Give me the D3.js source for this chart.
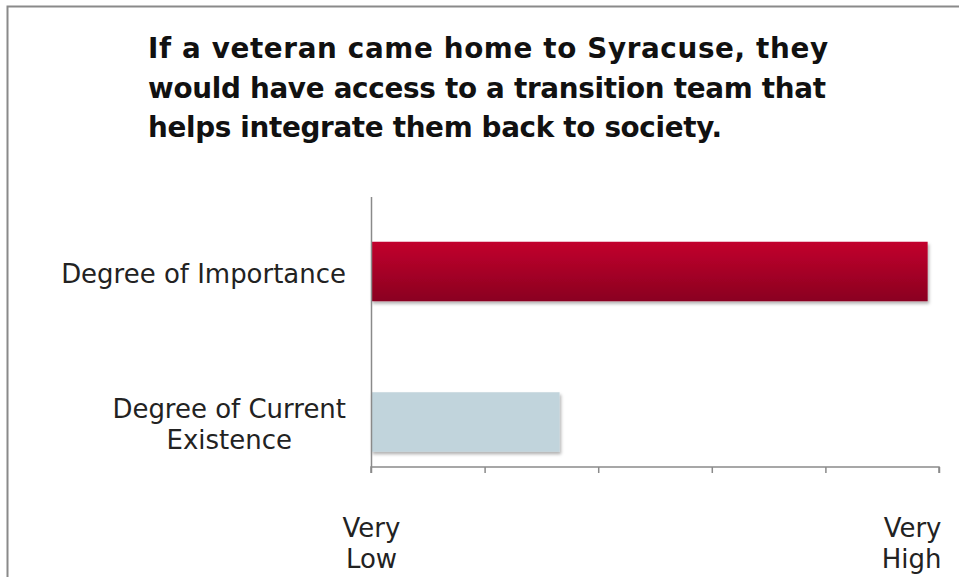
<!DOCTYPE html>
<html>
<head>
<meta charset="utf-8">
<script src="https://cdn.jsdelivr.net/npm/d3@7"></script>
<style>
  html, body { margin: 0; padding: 0; background: #fff; }
  svg { display: block; }
</style>
</head>
<body>
<svg id="chart" width="959" height="577"></svg>
<script>
// Survey item and ratings
const titleLines = [
  "If a veteran came home to Syracuse, they",
  "would have access to a transition team that",
  "helps integrate them back to society."
];
const titleWidths = [680, 678, 574];
const categories = ["Degree of Importance", "Degree of Current Existence"];
const categoryLines = [["Degree of Importance"], ["Degree of Current", "Existence"]];
const values = [4.9, 1.66];
const tickValues = [0, 1, 2, 3, 4, 5];
const tickLabels = [["Very", "Low"], [], [], [], [], ["Very", "High"]];

const svg = d3.select("#chart");
const W = 959, H = 577;

// frame (top and left edges)
svg.append("path")
  .attr("d", `M7.5,${H} V6.5 H${W}`)
  .attr("fill", "none")
  .attr("stroke", "#8a8a8a")
  .attr("stroke-width", 2);

// title: size taken from the widest line, then each line's spacing evened out
const titleFont = "'DejaVu Sans', 'Liberation Sans', sans-serif";
const title = svg.append("text")
  .attr("x", 148)
  .attr("font-family", titleFont)
  .attr("font-weight", "bold")
  .attr("font-size", 26)
  .attr("fill", "#111");
const tspans = title.selectAll("tspan")
  .data(titleLines)
  .join("tspan")
  .attr("x", 148)
  .attr("y", (d, i) => 58 + i * 39.5)
  .text(d => d);
let wSum = 0, tSum = 0;
tspans.each(function (d, i) { wSum += this.getComputedTextLength(); tSum += titleWidths[i]; });
title.attr("font-size", 26 * tSum / wSum);
tspans.attr("textLength", (d, i) => titleWidths[i]).attr("lengthAdjust", "spacing");

// scales
const x = d3.scaleLinear().domain([0, 5]).range([371, 939]);
const y = d3.scalePoint().domain(categories).range([271.5, 422]);
const barH = 59.5;
const axisTop = 197, axisY = 467;

// defs: gradient for the red bar and a soft drop shadow
const defs = svg.append("defs");
const grad = defs.append("linearGradient")
  .attr("id", "redGrad").attr("x1", 0).attr("y1", 0).attr("x2", 0).attr("y2", 1);
grad.append("stop").attr("offset", "0%").attr("stop-color", "#c2002d");
grad.append("stop").attr("offset", "100%").attr("stop-color", "#8a0020");

const shadow = defs.append("filter")
  .attr("id", "shadow").attr("x", "-5%").attr("y", "-20%").attr("width", "110%").attr("height", "150%");
shadow.append("feDropShadow")
  .attr("dx", 1.5).attr("dy", 2.5).attr("stdDeviation", 1.8)
  .attr("flood-color", "#000").attr("flood-opacity", 0.3);

const fills = ["url(#redGrad)", "#c1d4dc"];

// bars
svg.append("g")
  .selectAll("rect")
  .data(values)
  .join("rect")
  .attr("x", x(0))
  .attr("y", (d, i) => y(categories[i]) - barH / 2)
  .attr("width", d => x(d) - x(0))
  .attr("height", barH)
  .attr("fill", (d, i) => fills[i])
  .attr("filter", "url(#shadow)");

// vertical category axis line
svg.append("line")
  .attr("x1", x(0) + 0.5).attr("x2", x(0) + 0.5)
  .attr("y1", axisTop).attr("y2", axisY)
  .attr("stroke", "#8a8a8a").attr("stroke-width", 1.5);

// horizontal value axis
const xAxis = d3.axisBottom(x)
  .tickValues(tickValues)
  .tickSize(6)
  .tickFormat("");
const gx = svg.append("g")
  .attr("transform", `translate(0,${axisY})`)
  .call(xAxis);
gx.select(".domain").attr("stroke", "#8a8a8a").attr("stroke-width", 1.5)
  .attr("d", `M${x(0)},6V0H${x(5)}V6`);
gx.selectAll(".tick line").attr("stroke", "#8a8a8a").attr("stroke-width", 1.5);

// label font size chosen so "Degree of Importance" spans 285px
const labelFont = "'DejaVu Sans', sans-serif";
const probe = svg.append("text")
  .attr("font-family", labelFont).attr("font-size", 22)
  .text(categoryLines[0][0]);
const labelSize = 22 * 285 / probe.node().getComputedTextLength();
probe.remove();

// tick labels (two lines); the last one sits flush with the axis end
gx.selectAll(".tick").each(function (d, i) {
  const lines = tickLabels[i];
  const last = i === tickValues.length - 1;
  const t = d3.select(this).append("text")
    .attr("fill", "#222")
    .attr("font-family", labelFont)
    .attr("font-size", labelSize)
    .attr("text-anchor", last ? "end" : "middle");
  t.selectAll("tspan").data(lines).join("tspan")
    .attr("x", last ? 2 : 0)
    .attr("y", (l, j) => 70 + j * 31)
    .text(l => l);
});

// category labels: block right-aligned to the axis, lines centred inside the block
const labelRight = 346;
categories.forEach((c, i) => {
  const lines = categoryLines[i];
  const t = svg.append("text")
    .attr("fill", "#222")
    .attr("font-family", labelFont)
    .attr("font-size", labelSize)
    .attr("text-anchor", "middle");
  const cy = y(c);
  const lh = 31;
  const first = cy + 11 - (lines.length - 1) * lh / 2;
  const spans = t.selectAll("tspan").data(lines).join("tspan")
    .attr("y", (l, j) => first + j * lh)
    .text(l => l);
  let wMax = 0;
  spans.each(function () { wMax = Math.max(wMax, this.getComputedTextLength()); });
  spans.attr("x", labelRight - wMax / 2);
});
</script>
</body>
</html>
